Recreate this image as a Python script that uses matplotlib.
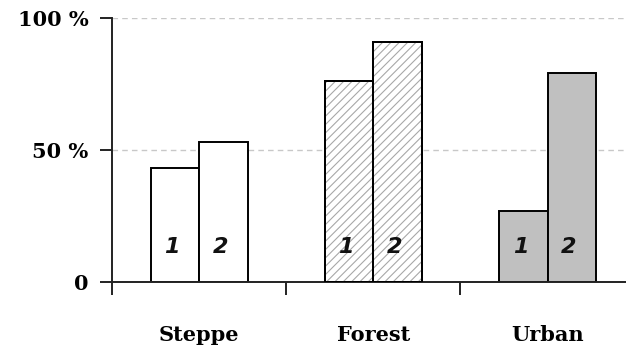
import numpy as np
import matplotlib.pyplot as plt

# values (percent)
habitats = ['Steppe', 'Forest', 'Urban']
series_1 = [43, 76, 27]
series_2 = [53, 91, 79]
bar_labels = ['1', '2']
y_ticks = [0, 50, 100]
y_ticklabels = ['0', '50 %', '100 %']

fills = ['white', 'white', '#c0c0c0']
hatches = [None, '////', None]

plt.rcParams['hatch.linewidth'] = 0.8

fig = plt.figure(figsize=(6.26, 3.54), dpi=100)
ax = fig.add_axes([0.179, 0.2034, 0.821, 0.7458])

x = np.arange(len(habitats))
w = 0.278

ax.grid(axis='y', linestyle=(0, (4, 3)), color='#c8c8c8', linewidth=1)
ax.set_axisbelow(True)

for i in range(len(habitats)):
    for j, vals in enumerate([series_1, series_2]):
        xpos = x[i] + (j - 0.5) * w
        ax.bar(xpos, vals[i], width=w, color=fills[i], edgecolor='black',
               linewidth=1.4, zorder=2)
        if hatches[i]:
            ax.bar(xpos, vals[i], width=w, color='none', edgecolor='#a8a8a8',
                   hatch=hatches[i], linewidth=0, zorder=3)
            ax.bar(xpos, vals[i], width=w, color='none', edgecolor='black',
                   linewidth=1.4, zorder=4)
        ax.text(xpos - 0.017, 13.3, bar_labels[j], ha='center', va='center',
                fontsize=16, fontweight='bold', style='italic',
                family='DejaVu Sans', color='#111111', zorder=5)

ax.set_xlim(-0.5, 2.45)
ax.set_ylim(0, 100)

ax.spines['top'].set_visible(False)
ax.spines['right'].set_visible(False)
ax.spines['left'].set_linewidth(1.4)
ax.spines['bottom'].set_linewidth(1.4)
ax.spines['left'].set_color('#222222')
ax.spines['bottom'].set_color('#222222')

ax.set_yticks(y_ticks)
ax.set_yticklabels(y_ticklabels, family='DejaVu Serif', fontweight='bold',
                   fontsize=15)
ax.tick_params(axis='y', direction='out', length=9, width=1.4, pad=8,
               color='#222222')

ax.set_xticks(x)
ax.set_xticklabels(habitats, family='DejaVu Serif', fontweight='bold',
                   fontsize=15)
ax.tick_params(axis='x', which='major', length=0, pad=31)
ax.set_xticks([-0.5, 0.5, 1.5], minor=True)
ax.tick_params(axis='x', which='minor', direction='out', length=9.5,
               width=1.4, color='#222222')

plt.savefig('out.png', dpi=100)
